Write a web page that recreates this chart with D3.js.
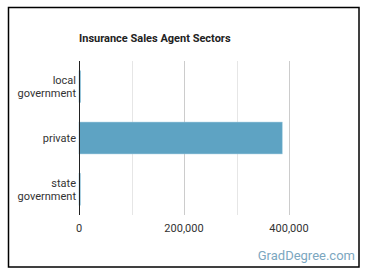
<!DOCTYPE html>
<html>
<head>
<meta charset="utf-8">
<script src="https://cdn.jsdelivr.net/npm/d3@7"></script>
<style>
	body { margin: 0; background: #fff; }
	svg { display: block; font-family: Roboto, "Noto Sans", sans-serif; }
</style>
</head>
<body>
<script>
var sectors = ["local government", "private", "state government"];
var agents = [3000, 387000, 2500];
var tickValues = [0, 200000, 400000];
var gridValues = [0, 100000, 200000, 300000, 400000];

var width = 370, height = 278;
var margin = {top: 61, left: 79, bottom: 63};

var svg = d3.select("body").append("svg")
	.attr("width", width)
	.attr("height", height);

// frame
svg.append("rect")
	.attr("x", 8.5).attr("y", 7.5)
	.attr("width", 350.5).attr("height", 259.5)
	.attr("fill", "#fff")
	.attr("stroke", "#000")
	.attr("stroke-width", 1.5);

var x = d3.scaleLinear()
	.domain([0, 400000])
	.range([margin.left, 289]);

var y = d3.scaleBand()
	.domain(sectors)
	.range([margin.top, height - margin.bottom])
	.paddingInner(0.38)
	.paddingOuter(0.19);

svg.append("text")
	.attr("x", margin.left)
	.attr("y", 41.5)
	.attr("font-size", 11)
	.attr("font-weight", "bold")
	.attr("fill", "#222")
	.text("Insurance Sales Agent Sectors");

// grid
svg.append("g").selectAll("line")
	.data(gridValues.slice(1))
	.enter().append("line")
	.attr("x1", function(d) { return Math.round(x(d)) + 0.5; })
	.attr("x2", function(d) { return Math.round(x(d)) + 0.5; })
	.attr("y1", margin.top)
	.attr("y2", height - margin.bottom)
	.attr("stroke", function(d) { return d % 200000 === 0 ? "#ccc" : "#e6e6e6"; })
	.attr("stroke-width", 1);

// bars
svg.append("g").selectAll("rect")
	.data(sectors)
	.enter().append("rect")
	.attr("x", x(0))
	.attr("y", function(d) { return y(d); })
	.attr("width", function(d, i) { return x(agents[i]) - x(0); })
	.attr("height", y.bandwidth())
	.attr("fill", "#5ea3c3")
	.attr("stroke", "#8cc0d8")
	.attr("stroke-width", 0.5);

// y axis line
svg.append("line")
	.attr("x1", x(0) + 0.5).attr("x2", x(0) + 0.5)
	.attr("y1", margin.top).attr("y2", height - margin.bottom)
	.attr("stroke", "#222");

// category labels
var labels = svg.append("g").selectAll("text")
	.data(sectors)
	.enter().append("text")
	.attr("text-anchor", "end")
	.attr("font-size", 11)
	.attr("fill", "#333");

labels.each(function(d) {
	var words = d.split(" ");
	var cy = y(d) + y.bandwidth() / 2;
	var t = d3.select(this);
	var start = cy - (words.length - 1) * 6.5;
	words.forEach(function(w, i) {
		t.append("tspan")
			.attr("x", 76)
			.attr("y", start + i * 13)
			.attr("dy", "0.35em")
			.text(w);
	});
});

// x tick labels
svg.append("g").selectAll("text")
	.data(tickValues)
	.enter().append("text")
	.attr("x", function(d) { return x(d); })
	.attr("y", 232)
	.attr("text-anchor", "middle")
	.attr("font-size", 11)
	.attr("fill", "#333")
	.text(function(d) { return d3.format(",")(d); });

svg.append("text")
	.attr("x", 355)
	.attr("y", 260)
	.attr("text-anchor", "end")
	.attr("font-size", 13)
	.attr("fill", "#7ca7bf")
	.text("GradDegree.com");
</script>
</body>
</html>
